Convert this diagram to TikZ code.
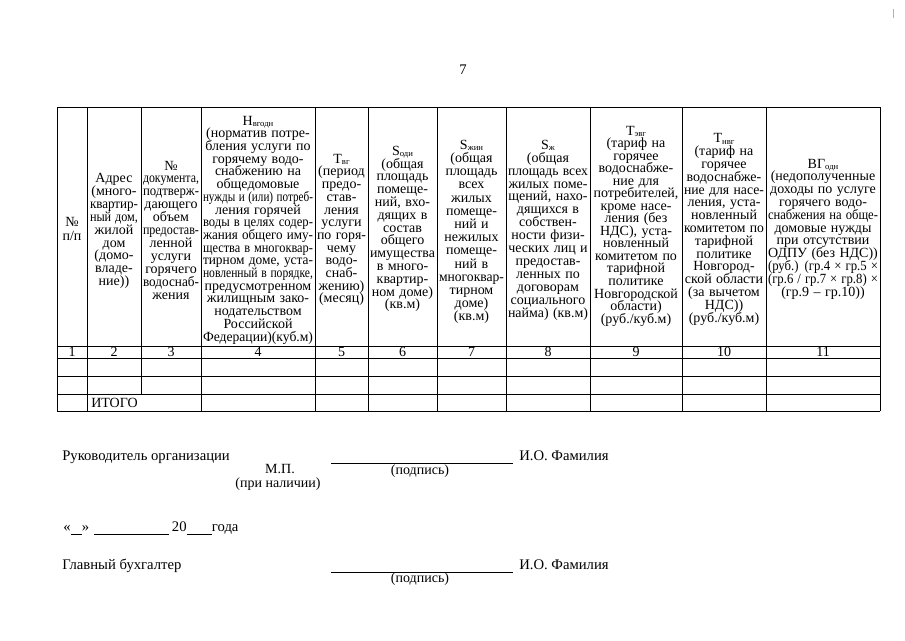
\documentclass[tikz,border=0pt]{standalone}
\usepackage{fontspec}
\setmainfont{Liberation Serif}
\usepackage{graphicx}
\newlength\mw
\makeatletter
\newcommand\fl[1]{\leavevmode\setbox0=\hbox{#1}\ifdim\wd0>\mw\resizebox{\mw}{\height}{#1}\else\box0\fi}
\def\cell#1{\cellA#1|\relax}
\def\cellA#1|#2\relax{\fl{#1}\ifx\relax#2\relax\expandafter\@gobble\else\expandafter\@firstofone\fi{\\\cellA#2\relax}}
\makeatother
\newcommand\sbs[1]{\raisebox{-1.2pt}{\fontsize{6.5}{7}\selectfont #1}}
% name, x, y, inner width (pt), baselineskip (pt), lines
\newcommand\hcell[6]{\node[hdr, text width=#4pt] (#1) at (#2,#3) {\setlength\mw{#4pt}\lineskiplimit=-100pt\lineskip=0pt\fontsize{10.5}{#5}\selectfont\cell{#6}\par};}
\begin{document}
\begin{tikzpicture}[x=0.75pt,y=-0.75pt,
  hdr/.style={inner sep=0pt, align=center, anchor=center},
  num/.style={inner sep=0pt, anchor=base, font=\fontsize{10.5}{12}\selectfont},
  ft/.style={inner sep=0pt, anchor=base west, font=\fontsize{11}{13}\selectfont},
  sm/.style={inner sep=0pt, anchor=base, font=\fontsize{10.5}{12}\selectfont},
  tline/.style={line width=0.6pt, black}]
\fill[white] (0,0) rectangle (905,640);
\useasboundingbox (0,0) rectangle (905,640);
\draw[gray!60, line width=0.5pt] (893,9) -- (893,18);
\node[sm] (page) at (463,74) {\fontsize{11}{13}\selectfont 7};
% table lines
\foreach \y in {107,346,358,376,394,411} \draw[tline] (57,\y) -- (880,\y);
\foreach \x in {57,87,201,315,368,437,506,590,682,766,880} \draw[tline] (\x,107) -- (\x,411);
\draw[tline] (141,107) -- (141,394);
% header cells
\hcell{h1}{72}{229}{19.5}{10.5}{№|п/п}
\hcell{h2}{114}{231}{36}{9.675}{Адрес|(много-|квартир-|ный дом,|жилой|дом|(домо-|владе-|ние))}
\hcell{h3}{171}{230}{42}{9.675}{№|документа,|подтверж-|дающего|объем|предостав-|ленной|услуги|горячего|водоснаб-|жения}
\hcell{h4}{258}{230}{82.5}{9.525}{Н\sbs{вгодн}|(норматив потре-|бления услуги по|горячему водо-|снабжению на|общедомовые|нужды и (или) потреб-|ления горячей|воды в целях содер-|жания общего иму-|щества в многоквар-|тирном доме, уста-|новленный в порядке,|предусмотренном|жилищным зако-|нодательством|Российской|Федерации)(куб.м)}
\hcell{h5}{341.5}{230}{36.75}{9.525}{Т\sbs{вг}|(период|предо-|став-|ления|услуги|по горя-|чему|водо-|снаб-|жению)|(месяц)}
\hcell{h6}{402.5}{229}{48.75}{9.6}{S\sbs{оди}|(общая|площадь|помеще-|ний, вхо-|дящих в|состав|общего|имущества|в много-|квартир-|ном доме)|(кв.м)}
\hcell{h7}{471.5}{232}{48.75}{9.9}{S\sbs{жин}|(общая|площадь|всех|жилых|помеще-|ний и|нежилых|помеще-|ний в|многоквар-|тирном|доме)|(кв.м)}
\hcell{h8}{548}{230}{60}{9.675}{S\sbs{ж}|(общая|площадь всех|жилых поме-|щений, нахо-|дящихся в|собствен-|ности физи-|ческих лиц и|предостав-|ленных по|договорам|социального|найма) (кв.м)}
\hcell{h9}{636}{226}{66}{9.4}{Т\sbs{эвг}|(тариф на|горячее|водоснабже-|ние для|потребителей,|кроме насе-|ления (без|НДС), уста-|новленный|комитетом по|тарифной|политике|Новгородской|области)|(руб./куб.м)}
\hcell{h10}{724}{229.5}{60}{9.6}{Т\sbs{нвг}|(тариф на|горячее|водоснабже-|ние для насе-|ления, уста-|новленный|комитетом по|тарифной|политике|Новгород-|ской области|(за вычетом|НДС))|(руб./куб.м)}
\hcell{h11}{823}{229}{82.5}{9.6}{ВГ\sbs{одн}|(недополученные|доходы по услуге|горячего водо-|снабжения на обще-|домовые нужды|при отсутствии|ОДПУ (без НДС))|(руб.) (гр.4 × гр.5 ×|(гр.6 / гр.7 × гр.8) ×|(гр.9 – гр.10))}
% number row
\node[num] (n1) at (72,356.5) {1};
\node[num] (n2) at (114,356.5) {2};
\node[num] (n3) at (171,356.5) {3};
\node[num] (n4) at (258,356.5) {4};
\node[num] (n5) at (341.5,356.5) {5};
\node[num] (n6) at (402.5,356.5) {6};
\node[num] (n7) at (471.5,356.5) {7};
\node[num] (n8) at (548,356.5) {8};
\node[num] (n9) at (636,356.5) {9};
\node[num] (n10) at (724,356.5) {10};
\node[num] (n11) at (823,356.5) {11};
\node[num, anchor=base west] (itogo) at (91,407.5) {ИТОГО};
% footer
\node[ft] (ruk) at (62,460) {Руководитель организации};
\node[sm] (mp) at (280,473) {М.П.};
\node[sm] (pri) at (278,487) {(при наличии)};
\coordinate (s1a) at (331,463);
\coordinate (s1b) at (513,463);
\draw[line width=0.6pt] (s1a) -- (s1b);
\node[sm] (pod1) at (420,474) {(подпись)};
\node[ft] (fio1) at (519,460) {И.О. Фамилия};
\node[ft] (date) at (63,531) {«\rule[-2.6pt]{8.5pt}{0.6pt}»\hspace{3.5pt}\rule[-2.6pt]{56pt}{0.6pt}\hspace{2.5pt}20\rule[-2.6pt]{19pt}{0.6pt}года};
\node[ft] (gb) at (62,569) {Главный бухгалтер};
\coordinate (s2a) at (331,572);
\coordinate (s2b) at (513,572);
\draw[line width=0.6pt] (s2a) -- (s2b);
\node[sm] (pod2) at (420,582) {(подпись)};
\node[ft] (fio2) at (519,569) {И.О. Фамилия};
\end{tikzpicture}
\end{document}
